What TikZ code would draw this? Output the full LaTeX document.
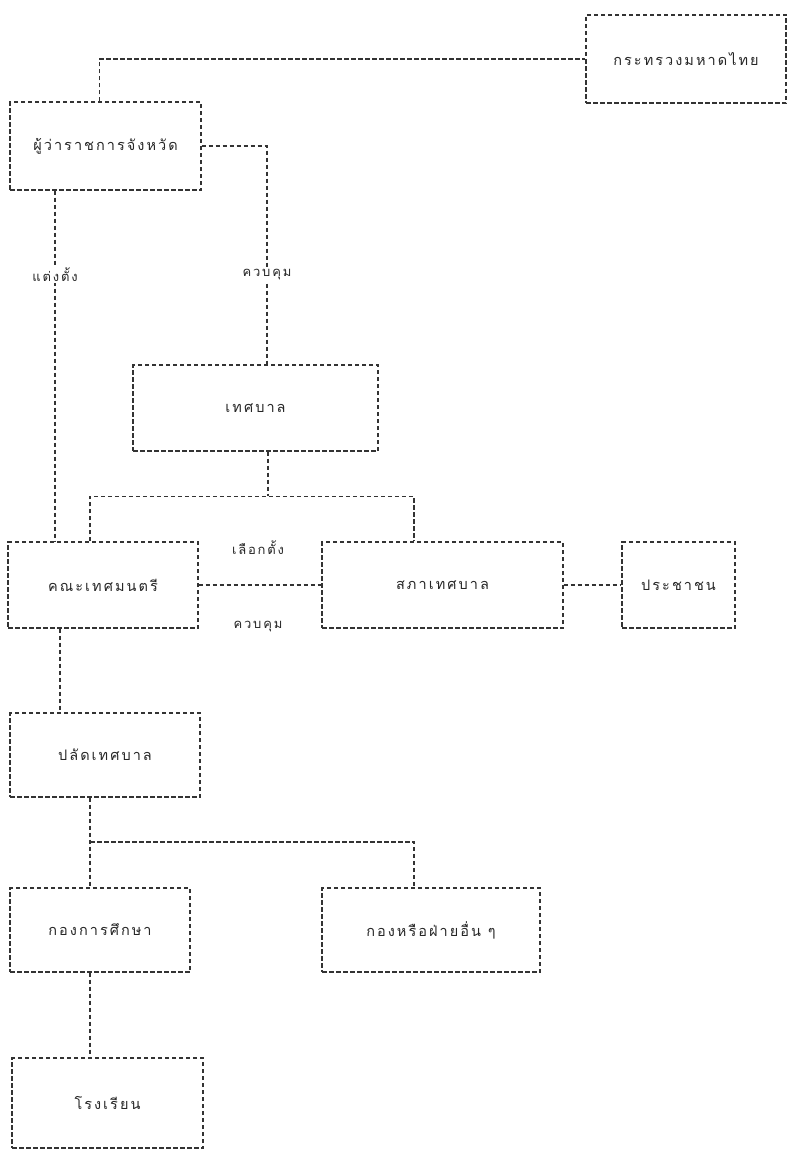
\documentclass[tikz,border=0pt]{standalone}
\usepackage{fontspec}
\newfontfamily\thai[Script=Thai,LetterSpace=14]{Loma}
\usetikzlibrary{calc}
\tikzset{
  x=1pt,y=1pt,
  dline/.style={draw=black!80, line width=1.4pt, dash pattern=on 4.5pt off 2.5pt},
  box/.style={dline, inner sep=0pt, font=\thai\fontsize{14.5}{16}\selectfont, text=black!85},
  conn/.style={dline},
  lbl/.style={fill=white, inner sep=1.5pt, font=\thai\fontsize{13}{15}\selectfont, text=black!85}
}
\begin{document}
\begin{tikzpicture}
\useasboundingbox (0,0) rectangle (788,-1156);
\node[box, minimum width=200pt, minimum height=88pt] (A) at (686,-59) {กระทรวงมหาดไทย};
\node[box, minimum width=191pt, minimum height=88pt] (B) at (105.5,-146) {ผู้ว่าราชการจังหวัด};
\node[box, minimum width=245pt, minimum height=86pt] (T) at (255.5,-408) {เทศบาล};
\node[box, minimum width=190pt, minimum height=86pt] (K) at (103,-585) {คณะเทศมนตรี};
\node[box, minimum width=241pt, minimum height=86pt] (S) at (442.5,-585) {สภาเทศบาล};
\node[box, minimum width=113pt, minimum height=86pt] (P) at (678.5,-585) {ประชาชน};
\node[box, minimum width=190pt, minimum height=84pt] (L) at (105,-755) {ปลัดเทศบาล};
\node[box, minimum width=180pt, minimum height=84pt] (E) at (100,-930) {กองการศึกษา};
\node[box, minimum width=218pt, minimum height=84pt] (O) at (431,-930) {กองหรือฝ่ายอื่น ๆ};
\node[box, minimum width=191pt, minimum height=90pt] (R) at (107.5,-1103) {โรงเรียน};

% connectors
\draw[conn] ([xshift=-6pt]B.north) |- (A.west);
\draw[conn] (B.east) -| ([xshift=11.5pt]T.north);
\draw[conn] ([xshift=-50.5pt]B.south) -- ([xshift=-50.5pt]B.south |- K.north);
\coordinate (j1) at ([xshift=12.5pt,yshift=-44.5pt]T.south);
\draw[conn] ([xshift=12.5pt]T.south) -- (j1);
\draw[conn] ([xshift=-13pt]K.north) -- ([xshift=-13pt]K.north |- j1) -| ([xshift=-28.5pt]S.north);
\draw[conn] (K.east) -- (S.west);
\draw[conn] (S.east) -- (P.west);
\draw[conn] ([xshift=-43pt]K.south) -- ([xshift=-43pt]K.south |- L.north);
\draw[conn] ([xshift=-10pt]E.north |- L.south) -- ([xshift=-10pt]E.north);
\coordinate (j2) at ([xshift=-10pt,yshift=45.5pt]E.north);
\draw[conn] (j2) -| ([xshift=-17pt]O.north);
\draw[conn] ([xshift=-10pt]E.south) -- ([xshift=-10pt]E.south |- R.north);

% labels
\node[lbl] (l1) at ([xshift=-50.5pt]B.south |- 0,-275) {แต่งตั้ง};
\node[lbl] (l2) at ([xshift=11.5pt]T.north |- 0,-275) {ควบคุม};
\node[lbl] (l3) at (258,-548) {เลือกตั้ง};
\node[lbl] (l4) at (258,-627) {ควบคุม};
\end{tikzpicture}
\end{document}
